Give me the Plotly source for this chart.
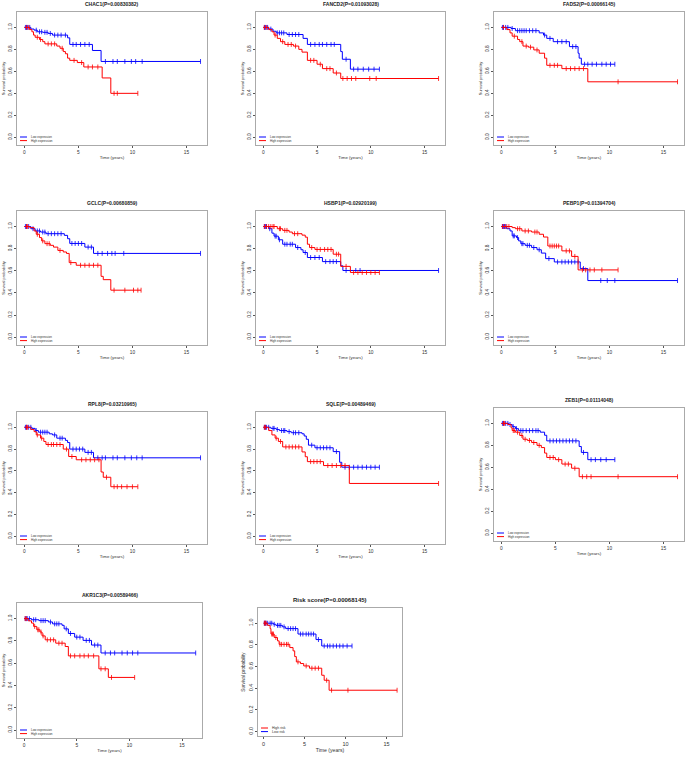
import numpy as np
import plotly.graph_objects as go

W, H = 685, 757

panel_titles = ["CHAC1(P=0.00830382)", "FANCD2(P=0.01093028)", "FADS2(P=0.00066145)",
                "GCLC(P=0.00680859)", "HSBP1(P=0.02920199)", "PEBP1(P=0.01394704)",
                "RPL8(P=0.03210965)", "SQLE(P=0.00489469)", "ZEB1(P=0.01114048)",
                "AKR1C3(P=0.00589466)", "Risk score(P=0.00068145)"]

x_ticks = [0, 5, 10, 15]
y_ticks = [0.0, 0.2, 0.4, 0.6, 0.8, 1.0]
y_tick_text = ["0.0", "0.2", "0.4", "0.6", "0.8", "1.0"]

# ---- Kaplan-Meier step data (time of step, survival after step), end of follow-up, censor times ----
chac1_low_t = [0, 0.6, 0.9, 1.2, 1.7, 2.2, 2.6, 4.0, 4.2, 6.3, 7.1]
chac1_low_s = [1, 0.985, 0.975, 0.96, 0.955, 0.945, 0.93, 0.905, 0.845, 0.79, 0.69]
chac1_low_end = 16.3
chac1_low_c = [0.1, 0.2, 0.3, 0.5, 1.1, 1.4, 1.6, 1.9, 2.1, 2.4, 2.8, 3.1, 3.4, 3.8, 4.5, 4.8, 5.2, 5.6, 6.0,
               7.5, 8.2, 8.6, 9.3, 9.9, 10.3, 10.9, 16.3]
chac1_high_t = [0, 0.5, 0.7, 0.85, 1.0, 1.4, 1.7, 1.9, 3.0, 3.3, 3.6, 3.8, 4.0, 4.2, 4.9, 5.5, 7.2, 8.0]
chac1_high_s = [1, 0.98, 0.96, 0.93, 0.91, 0.89, 0.87, 0.85, 0.83, 0.81, 0.78, 0.76, 0.72, 0.70, 0.68, 0.64, 0.54, 0.40]
chac1_high_end = 10.5
chac1_high_c = [0.2, 0.4, 1.2, 1.5, 2.2, 2.5, 2.8, 3.5, 4.6, 5.3, 5.9, 6.3, 6.8, 8.3, 8.6, 10.5]

fancd2_low_t = [0, 0.5, 0.9, 1.2, 2.2, 3.7, 4.1, 7.2, 7.35, 8.1]
fancd2_low_s = [1, 0.985, 0.965, 0.95, 0.935, 0.90, 0.845, 0.78, 0.71, 0.62]
fancd2_low_end = 10.8
fancd2_low_c = [0.1, 0.2, 0.4, 0.7, 1.3, 1.5, 1.7, 1.9, 2.4, 2.7, 3.0, 3.3, 4.4, 4.8, 5.2, 5.5, 5.9, 6.3, 6.6,
                7.7, 8.4, 8.8, 9.3, 9.8, 10.3, 10.8]
fancd2_high_t = [0, 0.5, 0.8, 1.0, 1.3, 1.6, 2.0, 2.8, 3.3, 3.6, 4.1, 5.0, 5.5, 6.5, 7.2]
fancd2_high_s = [1, 0.98, 0.96, 0.93, 0.90, 0.87, 0.845, 0.83, 0.80, 0.775, 0.70, 0.665, 0.625, 0.585, 0.535]
fancd2_high_end = 16.3
fancd2_high_c = [0.1, 0.3, 1.1, 1.8, 2.3, 2.6, 3.0, 4.4, 4.7, 5.3, 5.9, 6.2, 6.8, 7.4, 7.8, 8.2, 8.6, 9.9, 10.5, 16.3]

fads2_low_t = [0, 0.9, 1.3, 3.5, 3.9, 4.2, 4.8, 6.3, 7.1, 7.2, 7.4]
fads2_low_s = [1, 0.99, 0.97, 0.95, 0.93, 0.90, 0.87, 0.825, 0.765, 0.72, 0.665]
fads2_low_end = 10.5
fads2_low_c = [0.1, 0.2, 0.4, 0.6, 1.0, 1.5, 1.7, 1.9, 2.1, 2.3, 2.6, 2.9, 3.2, 4.0, 4.5, 5.2, 5.6, 6.0, 6.6, 6.9,
               7.7, 8.0, 8.4, 8.8, 9.3, 9.7, 10.1, 10.5]
fads2_high_t = [0, 0.5, 0.8, 1.0, 1.5, 1.7, 2.0, 2.5, 3.0, 3.5, 4.0, 4.2, 5.6, 8.0]
fads2_high_s = [1, 0.98, 0.95, 0.92, 0.89, 0.87, 0.83, 0.82, 0.795, 0.765, 0.72, 0.655, 0.625, 0.505]
fads2_high_end = 16.3
fads2_high_c = [0.2, 1.2, 1.9, 2.3, 2.7, 3.3, 4.5, 4.9, 5.2, 6.0, 6.4, 6.8, 7.2, 7.6, 10.8, 16.3]

gclc_low_t = [0, 0.6, 1.0, 1.5, 2.0, 3.7, 4.0, 4.2, 5.6, 6.4]
gclc_low_s = [1, 0.98, 0.96, 0.95, 0.935, 0.92, 0.89, 0.847, 0.814, 0.757]
gclc_low_end = 16.3
gclc_low_c = [0.1, 0.2, 0.4, 0.8, 1.2, 1.4, 1.7, 1.9, 2.2, 2.5, 2.8, 3.1, 3.4, 4.4, 4.7, 5.0, 5.3, 5.9, 6.2,
              6.8, 7.2, 7.7, 8.1, 8.4, 9.2, 16.3]
gclc_high_t = [0, 0.5, 0.9, 1.1, 1.4, 1.6, 1.9, 2.4, 2.7, 3.1, 3.6, 3.9, 4.15, 4.8, 7.1, 7.3, 8.0]
gclc_high_s = [1, 0.99, 0.96, 0.93, 0.90, 0.87, 0.845, 0.83, 0.814, 0.784, 0.77, 0.757, 0.674, 0.65, 0.55, 0.52, 0.425]
gclc_high_end = 10.8
gclc_high_c = [0.2, 0.3, 1.2, 1.7, 2.1, 2.3, 3.3, 4.3, 5.2, 5.6, 6.0, 6.4, 6.8, 8.3, 9.3, 10.1, 10.5, 10.8]

hsbp1_low_t = [0, 0.5, 0.8, 1.0, 1.4, 1.8, 3.0, 3.5, 3.7, 4.1, 5.5, 7.2, 7.4]
hsbp1_low_s = [1, 0.98, 0.94, 0.913, 0.88, 0.84, 0.81, 0.79, 0.765, 0.72, 0.683, 0.645, 0.603]
hsbp1_low_end = 16.3
hsbp1_low_c = [0.1, 0.2, 0.3, 0.6, 1.1, 1.2, 1.5, 2.0, 2.2, 2.5, 2.7, 3.2, 3.9, 4.4, 4.8, 5.2, 5.8, 6.2, 6.5,
               6.8, 7.7, 8.6, 9.0, 16.3]
hsbp1_high_t = [0, 1.3, 1.8, 2.4, 2.7, 3.6, 3.9, 4.1, 4.3, 4.8, 6.5, 7.2, 8.1]
hsbp1_high_s = [1, 0.98, 0.965, 0.95, 0.935, 0.922, 0.904, 0.84, 0.81, 0.793, 0.75, 0.64, 0.585]
hsbp1_high_end = 10.8
hsbp1_high_c = [0.1, 0.3, 0.5, 0.7, 0.9, 1.0, 1.5, 1.6, 2.0, 2.2, 2.9, 3.2, 4.5, 5.0, 5.3, 5.7, 6.0, 6.3,
                6.8, 7.0, 7.7, 8.4, 8.8, 9.2, 9.6, 10.0, 10.4, 10.8]

pebp1_low_t = [0, 0.5, 0.8, 1.0, 1.4, 1.6, 1.8, 2.2, 2.8, 3.3, 3.7, 4.1, 4.9, 7.3, 8.0]
pebp1_low_s = [1, 0.98, 0.96, 0.915, 0.90, 0.87, 0.845, 0.83, 0.81, 0.79, 0.76, 0.71, 0.68, 0.62, 0.512]
pebp1_low_end = 16.3
pebp1_low_c = [0.1, 0.2, 0.3, 0.4, 1.1, 1.2, 1.5, 1.9, 2.0, 2.4, 2.6, 3.0, 3.5, 4.4, 5.2, 5.6, 5.9, 6.2,
               6.5, 6.8, 7.1, 7.6, 9.2, 9.8, 10.5, 16.3]
pebp1_high_t = [0, 1.0, 1.3, 1.9, 2.8, 3.5, 3.9, 4.3, 5.6, 6.5, 7.1]
pebp1_high_s = [1, 0.99, 0.98, 0.96, 0.95, 0.93, 0.905, 0.824, 0.78, 0.73, 0.608]
pebp1_high_end = 10.8
pebp1_high_c = [0.1, 0.3, 0.5, 0.7, 1.5, 1.7, 2.2, 2.5, 3.1, 3.3, 4.5, 4.7, 4.9, 5.1, 5.3, 6.0, 6.3, 6.8,
                7.5, 7.8, 8.2, 8.6, 9.3, 10.8]

rpl8_low_t = [0, 0.7, 1.0, 1.3, 2.3, 2.6, 3.0, 3.8, 4.0, 4.2, 5.6, 6.4]
rpl8_low_s = [1, 0.99, 0.97, 0.955, 0.94, 0.93, 0.90, 0.88, 0.86, 0.80, 0.77, 0.72]
rpl8_low_end = 16.3
rpl8_low_c = [0.1, 0.2, 0.4, 0.6, 1.1, 1.5, 1.7, 1.9, 2.1, 2.8, 3.3, 3.5, 4.5, 4.8, 5.1, 5.4, 5.9, 6.2,
              6.8, 7.2, 7.5, 8.2, 8.6, 9.3, 9.9, 10.4, 10.9, 16.3]
rpl8_high_t = [0, 0.6, 0.9, 1.1, 1.5, 1.8, 2.0, 3.6, 4.1, 4.8, 7.1, 7.3, 8.0]
rpl8_high_s = [1, 0.98, 0.96, 0.93, 0.90, 0.87, 0.842, 0.80, 0.732, 0.702, 0.59, 0.542, 0.455]
rpl8_high_end = 10.5
rpl8_high_c = [0.2, 0.3, 1.2, 1.6, 2.2, 2.5, 2.7, 3.0, 3.3, 3.9, 4.4, 5.3, 5.7, 6.1, 6.5, 6.9, 7.6, 8.3,
               8.6, 9.0, 9.5, 10.0, 10.5]

sqle_low_t = [0, 0.7, 1.2, 1.5, 2.2, 2.6, 3.6, 3.8, 4.0, 4.2, 4.8, 6.5, 7.1, 7.3]
sqle_low_s = [1, 0.99, 0.98, 0.97, 0.96, 0.95, 0.94, 0.92, 0.89, 0.836, 0.812, 0.777, 0.679, 0.634]
sqle_low_end = 10.8
sqle_low_c = [0.1, 0.2, 0.3, 0.5, 0.9, 1.0, 1.3, 1.7, 1.9, 2.0, 2.4, 2.8, 3.0, 3.3, 4.5, 5.0, 5.3, 5.6, 5.9,
              6.2, 6.8, 7.6, 8.0, 8.4, 8.8, 9.2, 9.6, 10.0, 10.4, 10.8]
sqle_high_t = [0, 0.5, 0.8, 1.1, 1.4, 1.8, 3.6, 3.9, 4.1, 5.6, 8.0]
sqle_high_s = [1, 0.97, 0.93, 0.90, 0.87, 0.82, 0.774, 0.73, 0.685, 0.649, 0.485]
sqle_high_end = 16.3
sqle_high_c = [0.1, 0.2, 1.2, 1.6, 2.1, 2.4, 2.7, 3.0, 3.3, 4.4, 4.7, 5.0, 5.3, 6.0, 6.4, 6.8, 7.2, 7.6, 16.3]

zeb1_low_t = [0, 0.7, 1.0, 1.3, 1.6, 3.6, 4.0, 4.2, 7.2, 7.4, 8.0]
zeb1_low_s = [1, 0.99, 0.97, 0.952, 0.934, 0.92, 0.892, 0.841, 0.79, 0.736, 0.67]
zeb1_low_end = 10.5
zeb1_low_c = [0.1, 0.2, 0.4, 0.6, 0.8, 1.1, 1.4, 1.8, 2.0, 2.3, 2.6, 2.9, 3.2, 3.4, 4.5, 4.8, 5.1, 5.4, 5.7,
              6.0, 6.3, 6.6, 6.9, 7.6, 8.3, 8.7, 9.2, 9.7, 10.5]
zeb1_high_t = [0, 0.6, 0.9, 1.0, 1.3, 1.7, 2.0, 2.4, 2.8, 3.3, 3.7, 4.0, 4.2, 5.0, 5.6, 6.5, 7.2]
zeb1_high_s = [1, 0.99, 0.96, 0.935, 0.92, 0.89, 0.856, 0.845, 0.826, 0.80, 0.78, 0.73, 0.69, 0.67, 0.63, 0.592, 0.515]
zeb1_high_end = 16.3
zeb1_high_c = [0.2, 0.3, 1.1, 1.2, 1.5, 1.9, 2.2, 2.6, 3.0, 3.5, 4.5, 4.8, 5.3, 5.9, 6.2, 6.8, 7.5, 7.9, 8.3,
               10.8, 16.3]

akr1c3_low_t = [0, 0.7, 1.4, 2.3, 2.7, 3.6, 3.8, 4.2, 4.8, 5.6, 6.4, 7.3]
akr1c3_low_s = [1, 0.99, 0.982, 0.97, 0.953, 0.94, 0.908, 0.867, 0.834, 0.805, 0.763, 0.692]
akr1c3_low_end = 16.3
akr1c3_low_c = [0.1, 0.2, 0.3, 0.5, 0.9, 1.1, 1.6, 1.8, 2.0, 2.5, 2.9, 3.1, 3.3, 4.0, 4.4, 5.0, 5.3, 5.9,
                6.2, 6.7, 7.0, 7.7, 8.2, 8.6, 9.3, 9.8, 10.3, 10.8, 16.3]
akr1c3_high_t = [0, 0.4, 0.7, 0.9, 1.2, 1.5, 1.7, 2.0, 3.0, 3.9, 4.2, 7.1, 8.0]
akr1c3_high_s = [1, 0.98, 0.96, 0.93, 0.90, 0.88, 0.845, 0.81, 0.78, 0.75, 0.666, 0.55, 0.473]
akr1c3_high_end = 10.5
akr1c3_high_c = [0.1, 0.2, 1.0, 1.3, 1.4, 1.6, 1.8, 2.2, 2.5, 2.8, 3.3, 3.6, 4.4, 4.8, 5.3, 5.7, 6.1, 6.6,
                 7.3, 7.7, 8.3, 10.5]

risk_low_t = [0, 1.2, 1.5, 2.3, 2.7, 4.2, 6.4, 7.1]
risk_low_s = [1, 0.99, 0.98, 0.966, 0.95, 0.90, 0.849, 0.79]
risk_low_end = 10.8
risk_low_c = [0.1, 0.2, 0.3, 0.5, 0.8, 1.0, 1.3, 1.7, 1.9, 2.1, 2.5, 3.0, 3.3, 3.6, 3.9, 4.5, 4.8, 5.2, 5.5,
              5.8, 6.1, 6.7, 7.4, 7.8, 8.1, 8.5, 8.9, 9.3, 9.7, 10.2, 10.8]
risk_high_t = [0, 0.5, 0.8, 0.9, 1.3, 1.7, 1.9, 3.2, 3.6, 3.8, 4.0, 4.5, 4.9, 5.6, 7.1, 7.4, 8.0]
risk_high_s = [1, 0.98, 0.95, 0.90, 0.868, 0.837, 0.805, 0.775, 0.745, 0.692, 0.643, 0.628, 0.606, 0.585,
               0.52, 0.474, 0.382]
risk_high_end = 16.3
risk_high_c = [0.1, 0.2, 0.3, 1.0, 1.1, 1.2, 1.5, 2.0, 2.2, 2.5, 2.8, 3.0, 4.2, 5.2, 5.9, 6.3, 6.7, 7.7, 8.3,
               10.3, 16.3]

panels_low = [
    (chac1_low_t, chac1_low_s, chac1_low_end, chac1_low_c),
    (fancd2_low_t, fancd2_low_s, fancd2_low_end, fancd2_low_c),
    (fads2_low_t, fads2_low_s, fads2_low_end, fads2_low_c),
    (gclc_low_t, gclc_low_s, gclc_low_end, gclc_low_c),
    (hsbp1_low_t, hsbp1_low_s, hsbp1_low_end, hsbp1_low_c),
    (pebp1_low_t, pebp1_low_s, pebp1_low_end, pebp1_low_c),
    (rpl8_low_t, rpl8_low_s, rpl8_low_end, rpl8_low_c),
    (sqle_low_t, sqle_low_s, sqle_low_end, sqle_low_c),
    (zeb1_low_t, zeb1_low_s, zeb1_low_end, zeb1_low_c),
    (akr1c3_low_t, akr1c3_low_s, akr1c3_low_end, akr1c3_low_c),
    (risk_low_t, risk_low_s, risk_low_end, risk_low_c),
]
panels_high = [
    (chac1_high_t, chac1_high_s, chac1_high_end, chac1_high_c),
    (fancd2_high_t, fancd2_high_s, fancd2_high_end, fancd2_high_c),
    (fads2_high_t, fads2_high_s, fads2_high_end, fads2_high_c),
    (gclc_high_t, gclc_high_s, gclc_high_end, gclc_high_c),
    (hsbp1_high_t, hsbp1_high_s, hsbp1_high_end, hsbp1_high_c),
    (pebp1_high_t, pebp1_high_s, pebp1_high_end, pebp1_high_c),
    (rpl8_high_t, rpl8_high_s, rpl8_high_end, rpl8_high_c),
    (sqle_high_t, sqle_high_s, sqle_high_end, sqle_high_c),
    (zeb1_high_t, zeb1_high_s, zeb1_high_end, zeb1_high_c),
    (akr1c3_high_t, akr1c3_high_s, akr1c3_high_end, akr1c3_high_c),
    (risk_high_t, risk_high_s, risk_high_end, risk_high_c),
]

# panel frames in pixels: left, right, top, bottom
frames = [(17, 207, 12, 145), (256, 445, 12, 145), (494, 684, 12, 145),
          (17, 207, 211, 345), (256, 445, 211, 345), (494, 684, 211, 345),
          (17, 207, 412, 544), (256, 445, 412, 544), (494, 684, 408, 541),
          (17, 202, 603, 738), (258, 402, 608, 736)]

BLUE = "#0000ff"
RED = "#ff0000"
FONT = "Arial, Liberation Sans, sans-serif"


def px(x):
    return x / W


def py(y):
    return 1 - y / H


def step_value(t, s, c):
    idx = np.searchsorted(np.asarray(t), np.asarray(c), side="right") - 1
    return list(np.asarray(s)[idx])


fig = go.Figure()
layout = {}
annotations = []
shapes = []

for i in range(11):
    k = "" if i == 0 else str(i + 1)
    xa, ya = "x" + k, "y" + k
    L, R, T, B = frames[i]
    big = (i == 10)
    for (t, s, end, c), col in ((panels_low[i], BLUE), (panels_high[i], RED)):
        fig.add_trace(go.Scatter(x=list(t) + [end], y=list(s) + [s[-1]], mode="lines",
                                 line=dict(color=col, width=1, shape="hv"),
                                 xaxis=xa, yaxis=ya, showlegend=False, hoverinfo="skip"))
        fig.add_trace(go.Scatter(x=c, y=step_value(t, s, c), mode="markers",
                                 marker=dict(symbol="line-ns", size=3.5,
                                             line=dict(color=col, width=0.8)),
                                 xaxis=xa, yaxis=ya, showlegend=False, hoverinfo="skip"))
    tf = 5.5 if big else 4.8
    layout["xaxis" + k] = dict(domain=[px(L), px(R)], anchor=ya, range=[-0.68, 16.9],
                               tickvals=x_ticks, ticks="outside", ticklen=2, tickwidth=0.8,
                               tickcolor="#555", showline=True, mirror=True, linecolor="#aaaaaa",
                               linewidth=1, showgrid=False, zeroline=False, automargin=False,
                               tickfont=dict(size=tf, color="#333", family=FONT),
                               title=dict(text="Time (years)", standoff=2,
                                          font=dict(size=tf - 0.4, color="#333", family=FONT)))
    layout["yaxis" + k] = dict(domain=[py(B), py(T)], anchor=xa,
                               range=[-0.04 if big else -0.07, 1.14],
                               tickvals=y_ticks, ticktext=y_tick_text, tickangle=-90,
                               ticks="outside", ticklen=2, tickwidth=0.8, tickcolor="#555",
                               showline=True, mirror=True, linecolor="#aaaaaa", linewidth=1,
                               showgrid=False, zeroline=False, automargin=False,
                               tickfont=dict(size=tf, color="#333", family=FONT),
                               title=dict(text="Survival probability", standoff=2,
                                          font=dict(size=tf - 0.8, color="#333", family=FONT)))
    # title
    annotations.append(dict(text="<b>" + panel_titles[i] + "</b>", x=px((L + R) / 2), y=py(T - 8),
                            xref="paper", yref="paper", showarrow=False, xanchor="center",
                            yanchor="middle", font=dict(size=6 if big else 5, color="#222", family=FONT)))
    # legend
    if big:
        labels = [("High risk", RED), ("Low risk", BLUE)]
        fs = 3.5
    else:
        labels = [("Low expression", BLUE), ("High expression", RED)]
        fs = 3
    for j, (lab, col) in enumerate(labels):
        yy = B - 8 + j * 3.6
        shapes.append(dict(type="line", xref="paper", yref="paper", x0=px(L + 3), x1=px(L + 10),
                           y0=py(yy), y1=py(yy), line=dict(color=col, width=1)))
        annotations.append(dict(text=lab, x=px(L + 11.5), y=py(yy), xref="paper", yref="paper",
                                showarrow=False, xanchor="left", yanchor="middle",
                                font=dict(size=fs, color="#333", family=FONT)))

fig.update_layout(**layout)
fig.update_layout(width=W, height=H, margin=dict(l=0, r=0, t=0, b=0),
                  paper_bgcolor="white", plot_bgcolor="white",
                  annotations=annotations, shapes=shapes, showlegend=False,
                  font=dict(family=FONT))

fig.write_html("out.html", config={"displayModeBar": False},
               post_script="document.body.style.margin='0';document.body.style.overflow='hidden';")
